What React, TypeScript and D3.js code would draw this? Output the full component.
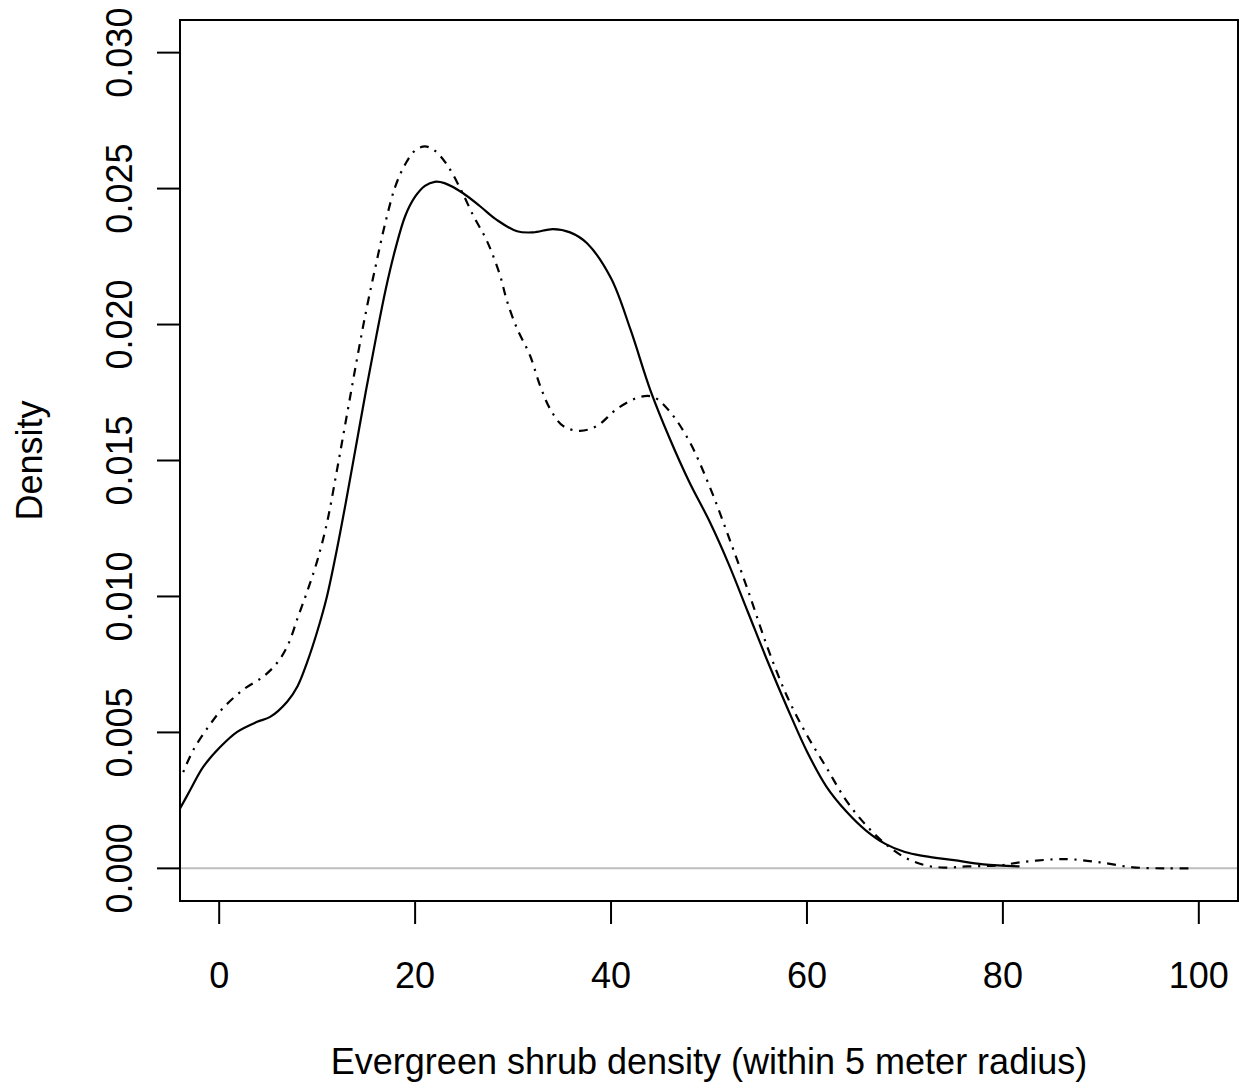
import React from "react";
import * as d3 from "d3";

const xTicks = [0, 20, 40, 60, 80, 100];
const yTicks = [0, 0.005, 0.01, 0.015, 0.02, 0.025, 0.03];
const yTickLabels = ["0.000", "0.005", "0.010", "0.015", "0.020", "0.025", "0.030"];

const solidX = [-3.98, -2.96, -1.63, 0.1, 1.84, 3.88, 5.2, 6.94, 8, 9, 10, 11, 12, 13, 14, 15, 16, 17, 18, 19, 20, 21, 22, 23, 24.9, 26.63, 28.37, 30.41, 32.04, 34.08, 35.82, 37.55, 40, 42, 44, 46, 48, 50, 52, 54, 56, 58, 60, 62, 64, 66, 68, 70, 72, 75, 78, 81.7];
const solidY = [0.00221, 0.00288, 0.00373, 0.00446, 0.00502, 0.00539, 0.00557, 0.00613, 0.0067, 0.0076, 0.0087, 0.01, 0.0117, 0.0136, 0.0156, 0.0176, 0.0195, 0.0213, 0.0228, 0.024, 0.0247, 0.0251, 0.02525, 0.0252, 0.02483, 0.02435, 0.02384, 0.02343, 0.02339, 0.02351, 0.02339, 0.02299, 0.0217, 0.0198, 0.0176, 0.0158, 0.0142, 0.0128, 0.0112, 0.0094, 0.0076, 0.0059, 0.0043, 0.003, 0.0021, 0.0014, 0.0009, 0.0006, 0.00045, 0.0003, 0.00015, 0.00007];

const dashX = [-3.67, -2.65, -1.12, 0.41, 2.45, 4.49, 5.92, 7, 8, 9, 10, 11, 12, 13, 14, 15, 16, 17, 18, 19, 20, 21, 22, 23.27, 24.59, 25.92, 27.35, 28.67, 29.39, 30.41, 31.73, 32.76, 33.78, 35.1, 36.84, 38.57, 40.61, 42.96, 44.29, 46, 48, 50, 52, 54, 56, 58, 60, 62, 64, 66, 68, 70, 72, 74, 76.33, 79.69, 81.73, 85.1, 87.14, 89.9, 93.27, 96.73, 99.39];
const dashY = [0.00354, 0.00435, 0.0052, 0.0059, 0.00657, 0.00705, 0.00756, 0.0082, 0.0092, 0.0102, 0.0113, 0.0127, 0.0146, 0.0166, 0.0186, 0.0205, 0.0222, 0.0238, 0.0251, 0.0259, 0.0264, 0.02655, 0.0264, 0.02587, 0.02502, 0.02402, 0.02306, 0.02181, 0.02085, 0.01985, 0.01886, 0.01775, 0.0169, 0.01627, 0.01609, 0.01627, 0.0169, 0.01734, 0.01734, 0.0168, 0.0157, 0.0141, 0.0122, 0.0102, 0.0081, 0.0063, 0.0049, 0.0037, 0.0025, 0.0016, 0.0009, 0.0004, 0.00012, 0.00003, 0.00007, 0.00011, 0.00022, 0.00033, 0.00033, 0.00022, 0.00004, 0.0, 0.0];

const W = 1244;
const H = 1088;
const L = 180, R = 1238, T = 20, B = 901;
const FONT = "'Liberation Sans', Arial, sans-serif";

export default function App() {
  const x = d3.scaleLinear().domain([-4, 104]).range([L, R]);
  const y = d3.scaleLinear().domain([-0.0012, 0.0312]).range([B, T]);
  const line = d3
    .line<[number, number]>()
    .x((d) => x(d[0]))
    .y((d) => y(d[1]))
    .curve(d3.curveCatmullRom.alpha(0.5));
  const solid = solidX.map((v, i) => [v, solidY[i]] as [number, number]);
  const dashed = dashX.map((v, i) => [v, dashY[i]] as [number, number]);

  return (
    <svg
      width={W}
      height={H}
      style={{ position: "absolute", left: 0, top: 0, background: "#fff" }}
      fontFamily={FONT}
    >
      <defs>
        <clipPath id="plotclip">
          <rect x={L} y={T} width={R - L} height={B - T} />
        </clipPath>
      </defs>
      <rect x={0} y={0} width={W} height={H} fill="#fff" />
      <line x1={L} x2={R} y1={y(0)} y2={y(0)} stroke="#bebebe" strokeWidth={2} />
      <g clipPath="url(#plotclip)" fill="none" stroke="#000" strokeWidth={2.2}>
        <path d={line(solid) || ""} />
        <path d={line(dashed) || ""} strokeDasharray="2.2,6.6,8.8,6.6" />
      </g>
      <rect x={L} y={T} width={R - L} height={B - T} fill="none" stroke="#000" strokeWidth={2} />
      {xTicks.map((t) => (
        <g key={"x" + t}>
          <line x1={x(t)} x2={x(t)} y1={B} y2={B + 23} stroke="#000" strokeWidth={2} />
          <text x={x(t)} y={988} textAnchor="middle" fontSize={36} fill="#000">
            {t}
          </text>
        </g>
      ))}
      {yTicks.map((t, i) => (
        <g key={"y" + t}>
          <line x1={L - 23} x2={L} y1={y(t)} y2={y(t)} stroke="#000" strokeWidth={2} />
          <text
            transform={`translate(132,${y(t)}) rotate(-90)`}
            textAnchor="middle"
            fontSize={36}
            fill="#000"
          >
            {yTickLabels[i]}
          </text>
        </g>
      ))}
      <text x={(L + R) / 2} y={1074} textAnchor="middle" fontSize={36} fill="#000">
        Evergreen shrub density (within 5 meter radius)
      </text>
      <text
        transform={`translate(42,${(T + B) / 2}) rotate(-90)`}
        textAnchor="middle"
        fontSize={36}
        fill="#000"
      >
        Density
      </text>
    </svg>
  );
}
